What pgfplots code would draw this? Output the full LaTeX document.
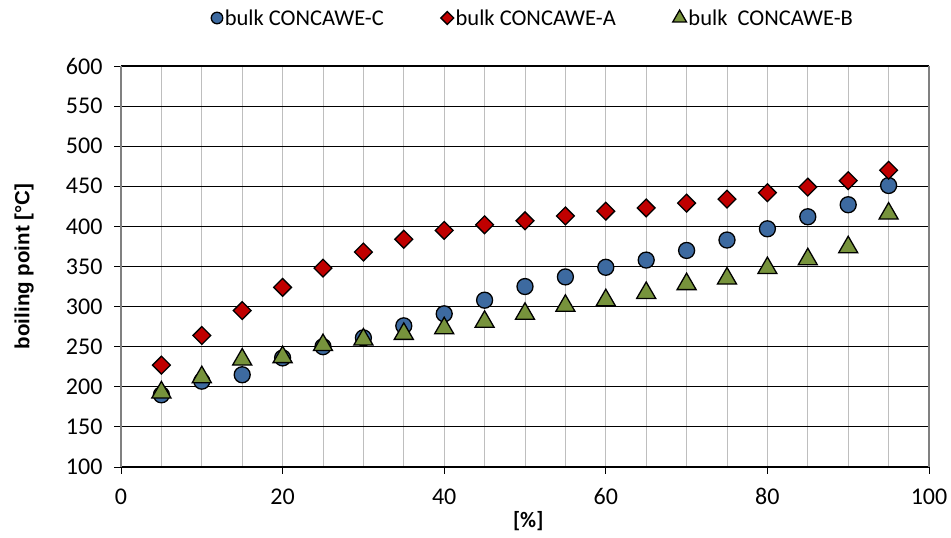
\documentclass[border=0pt]{standalone}
\usepackage{fontspec}
\setmainfont{Carlito}
\newfontfamily\arialfont{Liberation Sans}
\usepackage{pgfplots}
\pgfplotsset{compat=1.18}
\definecolor{cblue}{RGB}{61,106,160}
\definecolor{cred}{RGB}{192,0,0}
\definecolor{cgreen}{RGB}{119,147,60}
\definecolor{gridgray}{RGB}{190,190,190}
\begin{document}
\begin{tikzpicture}
\begin{axis}[
  name=a,
  scale only axis,
  width=808pt, height=401pt,
  xmin=0, xmax=100, ymin=100, ymax=600,
  xtick={0,20,...,100},
  minor xtick={0,5,...,100},
  ytick={100,150,...,600},
  /pgf/number format/assume math mode=true,
  tick label style={font=\fontsize{24}{26}\selectfont},
  xticklabel style={yshift=-11pt},
  yticklabel style={xshift=-8pt},
  xmajorgrids, xminorgrids, ymajorgrids,
  major x grid style={gridgray, line width=1pt},
  minor x grid style={gridgray, line width=1pt},
  major y grid style={black, line width=1.1pt},
  separate axis lines,
  x axis line style={black, line width=1.4pt},
  y axis line style={gray, line width=1.2pt},
  axis x line*=box, axis y line*=box,
  tick align=outside,
  major tick length=7pt,
  minor tick length=0pt,
  tick style={black, line width=0.8pt},
  xtick pos=bottom, ytick pos=left,
  xlabel={\textbf{[\%]}},
  ylabel={\arialfont\bfseries boiling point [°C]},
  xlabel style={font=\fontsize{22}{24}\selectfont, at={(axis description cs:0.504,0)}, anchor=center, yshift=-54pt},
  ylabel style={font=\fontsize{20.5}{23}\selectfont, at={(axis description cs:-0.12,0.5)}, anchor=center},
  legend style={at={(0.51,1)}, anchor=center, yshift=48pt, draw=none,
    font=\fontsize{22.5}{24}\selectfont, column sep=0pt,
    /tikz/every even column/.append style={column sep=55pt},
    nodes={inner sep=2pt}},
  legend columns=3,
  legend image code/.code={\draw[#1, /tikz/every mark/.append style={scale=0.72}] plot coordinates {(0,0)};},
  clip=false,
]
\addplot[only marks, mark=*, mark size=8pt, mark options={fill=cblue, draw=black, line width=1.3pt}]
coordinates {(5,190)(10,207)(15,215)(20,236)(25,250)(30,261)(35,276)(40,291)(45,308)(50,325)(55,337)(60,349)(65,358)(70,370)(75,383)(80,397)(85,412)(90,427)(95,451)};
\addlegendentry{bulk CONCAWE-C}
\addplot[only marks, mark=square*, mark size=6.3pt, mark options={rotate=45, fill=cred, draw=black, line width=1.3pt}]
coordinates {(5,227)(10,264)(15,295)(20,324)(25,348)(30,368)(35,384)(40,395)(45,402)(50,407)(55,413)(60,419)(65,423)(70,429)(75,434)(80,442)(85,449)(90,457)(95,470)};
\addlegendentry{bulk CONCAWE-A}
\addplot[only marks, mark=triangle*, mark size=11pt, mark options={fill=cgreen, draw=black, line width=1.3pt}]
coordinates {(5,193)(10,212)(15,234)(20,237)(25,252)(30,259)(35,266)(40,273)(45,281)(50,291)(55,301)(60,308)(65,317)(70,328)(75,335)(80,348)(85,359)(90,374)(95,416)};
\addlegendentry{bulk\ \ CONCAWE-B}
\end{axis}
\pgfresetboundingbox
\path ([shift={(-121pt,-71pt)}]a.south west) rectangle ([shift={(22pt,66pt)}]a.north east);
\end{tikzpicture}
\end{document}
